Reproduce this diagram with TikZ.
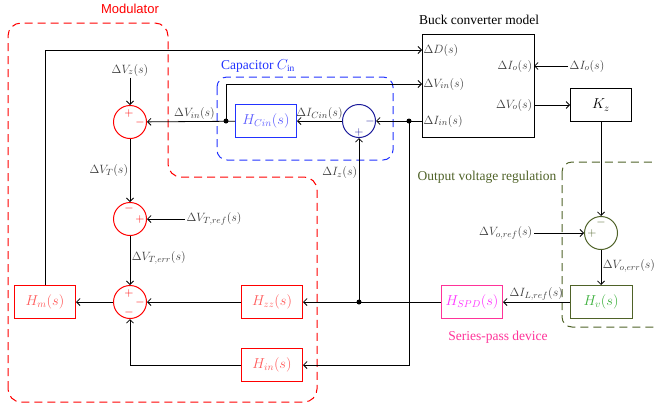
\documentclass[tikz,border=0pt]{standalone}
\usepackage{fontspec}
\setmainfont{Liberation Serif}
\newfontfamily\modfont{Liberation Sans}
\usetikzlibrary{arrows.meta,calc}
\definecolor{modred}{HTML}{FF0000}
\definecolor{modtxt}{HTML}{FF5A5A}
\definecolor{capblue}{HTML}{2233FF}
\definecolor{captxt}{HTML}{5A5AFF}
\definecolor{capsum}{HTML}{1A1A9A}
\definecolor{reggreen}{HTML}{4F6228}
\definecolor{regtxt}{HTML}{3DB03D}
\definecolor{spdpink}{HTML}{FF3399}
\definecolor{spdtxt}{HTML}{FF33FF}
\definecolor{lab}{HTML}{3C3C3C}

\begin{document}
\begin{tikzpicture}[x=1pt,y=-1pt,
    sig/.style={line width=0.8pt,-{Straight Barb[length=3.5pt,width=7pt]}},
    blk/.style={draw,line width=1pt,minimum width=61,minimum height=33,inner sep=0,
      font=\fontsize{14.5}{16}\selectfont},
    summer/.style={circle,draw,line width=1pt,minimum size=33,inner sep=0},
    pm/.style={font=\fontsize{13}{13}\selectfont,inner sep=0},
    lbl/.style={text=lab,font=\fontsize{12.5}{14}\selectfont,inner sep=1.5pt},
    ttl/.style={font=\fontsize{13.5}{15}\selectfont,inner sep=0},
    grp/.style={line width=1pt,dash pattern=on 8pt off 5pt,rounded corners=13},
    jdot/.style={circle,fill,inner sep=0,minimum size=5}]
  \useasboundingbox (0,0) rectangle (655,408);

  % group frames
  \draw[grp,modred] (8,402) -- (8,23) -- (168,23) -- (168,177) -- (317,177) -- (317,402) -- cycle;
  \draw[grp,capblue,rounded corners=10] (217,77) rectangle (393,160);
  \draw[grp,reggreen,rounded corners=10] (562,162) rectangle (668,327);
  \node[ttl,modred,font=\modfont\fontsize{13}{15}\selectfont] (tmod) at (130,9) {Modulator};
  \node[ttl,capblue] (tcap) at (258,66) {Capacitor $C_{\mathrm{in}}$};
  \node[ttl,reggreen] (treg) at (487,177) {Output voltage regulation};
  \node[ttl,spdpink] (tspd) at (498,337) {Series-pass device};
  \node[ttl] (tbuck) at (479,20) {Buck converter model};

  % plant
  \node[draw,line width=1pt,minimum width=112,minimum height=103,inner sep=0] (buck) at (478,85.5) {};
  \coordinate (pD) at (422,50);
  \coordinate (pVin) at (422,84);
  \coordinate (pIin) at (422,121);
  \coordinate (pIo) at (534,66);
  \coordinate (pVo) at (534,105);
  \node[lbl,anchor=west] at (pD) {$\Delta D(s)$};
  \node[lbl,anchor=west] at (pVin) {$\Delta V_{in}(s)$};
  \node[lbl,anchor=west] at (pIin) {$\Delta I_{in}(s)$};
  \node[lbl,anchor=east] at (pIo) {$\Delta I_{o}(s)$};
  \node[lbl,anchor=east] at (pVo) {$\Delta V_{o}(s)$};
  \node[blk,line width=0.8pt] (Kz) at (601,105) {$K_{z}$};

  % summing junctions
  \node[summer,modred] (s1) at (130,122) {};
  \node[summer,modred] (s2) at (130,219) {};
  \node[summer,modred] (s3) at (130,302) {};
  \node[summer,capsum] (scin) at (359,121) {};
  \node[summer,reggreen] (sv) at (601,233) {};
  \node[pm,modred] at (129,113) {$+$};  \node[pm,modred] at (140,122) {$-$};
  \node[pm,modred] at (129,208) {$-$};  \node[pm,modred] at (140,219) {$+$};
  \node[pm,modred] at (129,293) {$+$};  \node[pm,modred] at (140,302) {$-$};
  \node[pm,modred] at (129,312) {$-$};
  \node[pm,capsum] at (370,121) {$-$}; \node[pm,capsum] at (359,132) {$+$};
  \node[pm,reggreen] at (601,222) {$-$};  \node[pm,reggreen] at (592,233) {$+$};

  % transfer blocks
  \node[blk,modred,text=modtxt] (Hm) at (45,302) {$H_{m}(s)$};
  \node[blk,modred,text=modtxt] (Hzz) at (272,302) {$H_{zz}(s)$};
  \node[blk,modred,text=modtxt] (Hin) at (272,365) {$H_{in}(s)$};
  \node[blk,capblue,text=captxt] (HCin) at (266,121) {$H_{Cin}(s)$};
  \node[blk,spdpink,text=spdtxt] (HSPD) at (472,302) {$H_{SPD}(s)$};
  \node[blk,reggreen,text=regtxt,minimum width=62] (Hv) at (601,302) {$H_{v}(s)$};

  % external inputs
  \node[lbl] (vz) at (130,70) {$\Delta V_{z}(s)$};
  \node[lbl,anchor=west] (vtref) at (185,219) {$\Delta V_{T,ref}(s)$};
  \node[lbl,anchor=west] (io) at (568,66) {$\Delta I_{o}(s)$};
  \node[lbl,anchor=east] (voref) at (534,233) {$\Delta V_{o,ref}(s)$};

  % junctions
  \coordinate (jVin) at (226,121);
  \coordinate (jIin) at (409,121);
  \coordinate (jz) at (359,302);

  % signal flow
  \draw[sig] (Hm.north) |- (pD);
  \draw[sig] (vz) -- (s1);
  \draw[sig] (s1) -- node[lbl,left] {$\Delta V_{T}(s)$} (s2);
  \draw[sig] (vtref) -- (s2);
  \draw[sig] (s2) -- node[lbl,right,pos=0.45] {$\Delta V_{T,err}(s)$} (s3);
  \draw[sig] (s3) -- (Hm);
  \draw[sig] (Hzz) -- (s3);
  \draw[sig] (Hin.west) -| (s3.south);
  \draw[sig] (pIin) -- (scin);
  \draw[sig] (jIin) |- (Hin.east);
  \draw[sig] (scin) -- node[lbl,above] {$\Delta I_{Cin}(s)$} (HCin);
  \draw[sig] (HCin) -- node[lbl,above,pos=0.46] {$\Delta V_{in}(s)$} (s1);
  \draw[sig] (jVin) |- (pVin);
  \draw[sig] (jz) -- node[lbl,left,pos=0.79] {$\Delta I_{z}(s)$} (scin);
  \draw[sig] (HSPD) -- (Hzz);
  \draw[sig] (Hv) -- node[lbl,above] {$\Delta I_{L,ref}(s)$} (HSPD);
  \draw[sig] (sv) -- node[lbl,right,pos=0.45] {$\Delta V_{o,err}(s)$} (Hv);
  \draw[sig] (Kz) -- (sv);
  \draw[sig] (pVo) -- (Kz);
  \draw[sig] (io) -- (pIo);
  \draw[sig] (voref) -- (sv);
  \node[jdot] at (jVin) {};
  \node[jdot] at (jIin) {};
  \node[jdot] at (jz) {};
\end{tikzpicture}
\end{document}
